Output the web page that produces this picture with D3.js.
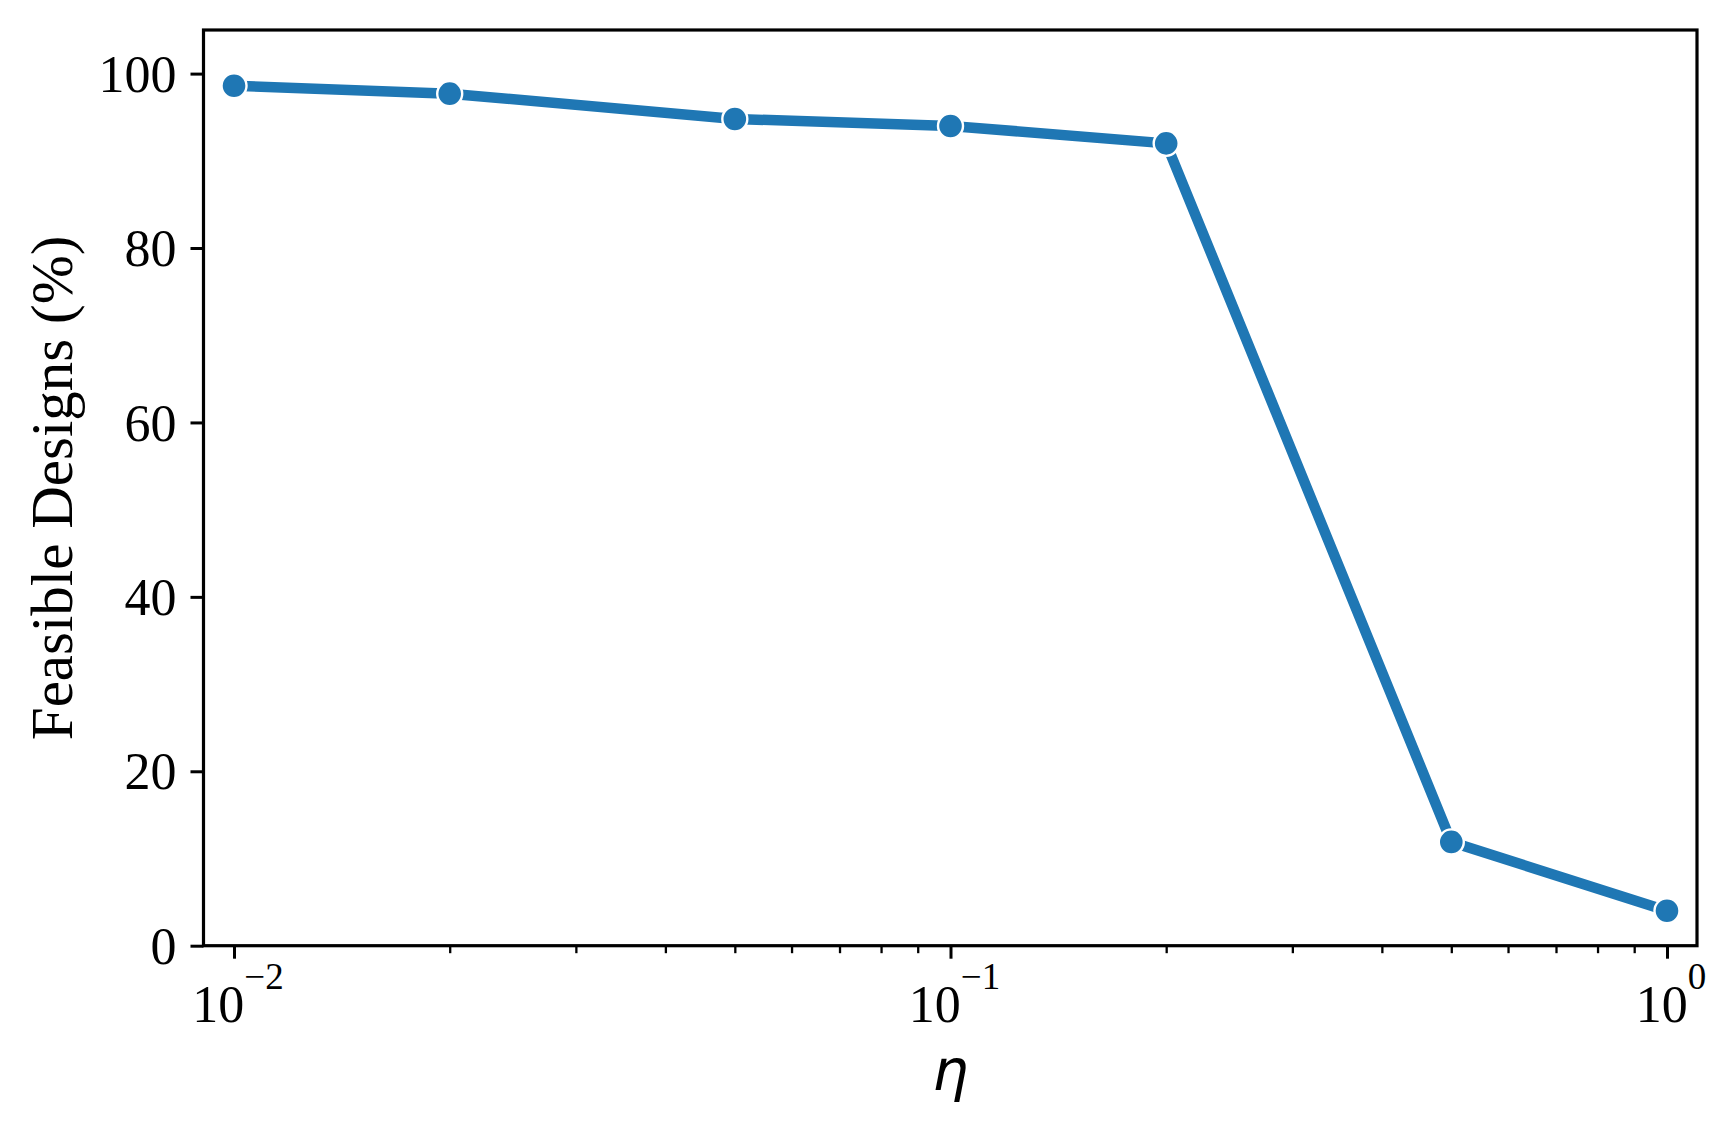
<!DOCTYPE html>
<html>
<head>
<meta charset="utf-8">
<script src="https://cdn.jsdelivr.net/npm/d3@7"></script>
<style>
  html, body { margin: 0; padding: 0; background: #fff; }
  svg { display: block; }
</style>
</head>
<body>
<svg id="chart" width="1732" height="1134"></svg>
<script>
// ---- data ----
const etaValues = [0.01, 0.02, 0.05, 0.1, 0.2, 0.5, 1.0];
const feasiblePct = [98.6, 97.7, 94.8, 94.0, 92.0, 11.9, 4.0];
const yTickValues = [0, 20, 40, 60, 80, 100];
const xMajorTicks = [0.01, 0.1, 1];
const xMajorExponents = ["\u22122", "\u22121", "0"];
const xMinorTicks = [0.02,0.03,0.04,0.05,0.06,0.07,0.08,0.09,0.2,0.3,0.4,0.5,0.6,0.7,0.8,0.9];
const yLabel = "Feasible Designs (%)";
const xLabel = "\u03B7";

// ---- layout ----
const L = 203.5, R = 1697, T = 30, B = 945.7;
const svg = d3.select("#chart");
const serif = "'Liberation Serif', 'Times New Roman', Times, serif";

const x = d3.scaleLog().domain([Math.pow(10, -2.0426), Math.pow(10, 0.0419)]).range([L, R]);
const y = d3.scaleLinear().domain([0, 105]).range([B, T]);

// Y axis
const yAxis = d3.axisLeft(y).tickValues(yTickValues).tickSize(13).tickPadding(14).tickFormat(d3.format("d"));
const gy = svg.append("g").attr("transform", `translate(${L},0)`).call(yAxis);
gy.select(".domain").remove();
gy.selectAll(".tick line").attr("stroke", "#000").attr("stroke-width", 3);
gy.selectAll(".tick text").attr("font-family", serif).attr("font-size", 52).attr("fill", "#000").attr("dy", "0.34em");

// X axis major ticks
const xAxis = d3.axisBottom(x).tickValues(xMajorTicks).tickSize(13).tickFormat("");
const gx = svg.append("g").attr("transform", `translate(0,${B})`).call(xAxis);
gx.select(".domain").remove();
gx.selectAll(".tick line").attr("stroke", "#000").attr("stroke-width", 3);
gx.selectAll(".tick text").remove();

// X minor ticks
const xMinor = d3.axisBottom(x).tickValues(xMinorTicks).tickSize(7.5).tickFormat("");
const gxm = svg.append("g").attr("transform", `translate(0,${B})`).call(xMinor);
gxm.select(".domain").remove();
gxm.selectAll(".tick line").attr("stroke", "#000").attr("stroke-width", 2.3);

// X tick labels with superscripts
xMajorTicks.forEach((v, i) => {
  const t = svg.append("text")
    .attr("x", x(v) + 4)
    .attr("y", 1022)
    .attr("text-anchor", "middle")
    .attr("font-family", serif)
    .attr("font-size", 52)
    .attr("fill", "#000");
  t.append("tspan").text("10");
  t.append("tspan").attr("dy", -33).attr("font-size", 37).text(xMajorExponents[i]);
});

// line
const line = d3.line().x((d, i) => x(etaValues[i])).y(d => y(d));
svg.append("path")
  .datum(feasiblePct)
  .attr("d", line)
  .attr("fill", "none")
  .attr("stroke", "#1f77b4")
  .attr("stroke-width", 10.5)
  .attr("stroke-linejoin", "round");

// markers
svg.selectAll("circle.pt")
  .data(feasiblePct)
  .enter().append("circle")
  .attr("class", "pt")
  .attr("cx", (d, i) => x(etaValues[i]))
  .attr("cy", d => y(d))
  .attr("r", 12.5)
  .attr("fill", "#1f77b4")
  .attr("stroke", "#fff")
  .attr("stroke-width", 2.4);

// frame
svg.append("rect")
  .attr("x", L).attr("y", T).attr("width", R - L).attr("height", B - T)
  .attr("fill", "none").attr("stroke", "#000").attr("stroke-width", 3.2);

// axis labels
svg.append("text")
  .attr("transform", `translate(72,${(T + B) / 2}) rotate(-90)`)
  .attr("text-anchor", "middle")
  .attr("font-family", serif)
  .attr("font-size", 59)
  .attr("fill", "#000")
  .text(yLabel);

svg.append("text")
  .attr("x", (L + R) / 2)
  .attr("y", 1090)
  .attr("text-anchor", "middle")
  .attr("font-family", "'DejaVu Sans', sans-serif")
  .attr("font-style", "italic")
  .attr("font-size", 57)
  .attr("fill", "#000")
  .text(xLabel);
</script>
</body>
</html>
